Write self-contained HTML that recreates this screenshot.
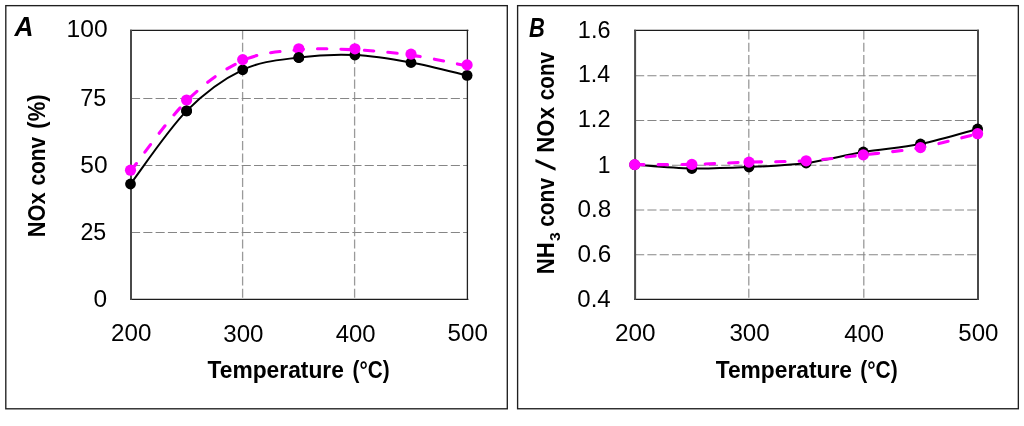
<!DOCTYPE html><html><head><meta charset="utf-8"><style>html,body{margin:0;padding:0;background:#fff;}svg{display:block;}text{font-family:"Liberation Sans",sans-serif;fill:#000;}</style></head><body>
<svg width="1024" height="426" viewBox="0 0 1024 426">
<rect x="0" y="0" width="1024" height="426" fill="#fff"/>
<rect x="5.8" y="5.65" width="501.50" height="403.15" fill="none" stroke="#1f1f1f" stroke-width="1.35"/>
<rect x="517.6" y="5.65" width="500.75" height="403.10" fill="none" stroke="#1f1f1f" stroke-width="1.35"/>
<line x1="242.60" y1="30.40" x2="242.60" y2="299.45" stroke="#9a9a9a" stroke-width="1.3" stroke-dasharray="9.1 3.2"/>
<line x1="354.60" y1="30.40" x2="354.60" y2="299.45" stroke="#9a9a9a" stroke-width="1.3" stroke-dasharray="9.1 3.2"/>
<line x1="131.00" y1="232.50" x2="467.40" y2="232.50" stroke="#868686" stroke-width="1.0" stroke-dasharray="9.1 3.2"/>
<line x1="131.00" y1="165.50" x2="467.40" y2="165.50" stroke="#868686" stroke-width="1.0" stroke-dasharray="9.1 3.2"/>
<line x1="131.00" y1="98.50" x2="467.40" y2="98.50" stroke="#868686" stroke-width="1.0" stroke-dasharray="9.1 3.2"/>
<line x1="130.00" y1="30.40" x2="468.40" y2="30.40" stroke="#1c1c1c" stroke-width="1.3"/>
<line x1="130.00" y1="299.45" x2="468.40" y2="299.45" stroke="#1c1c1c" stroke-width="1.3"/>
<line x1="131.00" y1="29.75" x2="131.00" y2="300.10" stroke="#4a4a4a" stroke-width="2.0"/>
<line x1="467.40" y1="29.75" x2="467.40" y2="300.10" stroke="#222" stroke-width="1.3"/>
<line x1="748.80" y1="30.35" x2="748.80" y2="299.40" stroke="#9a9a9a" stroke-width="1.3" stroke-dasharray="9.1 3.2"/>
<line x1="863.80" y1="30.35" x2="863.80" y2="299.40" stroke="#9a9a9a" stroke-width="1.3" stroke-dasharray="9.1 3.2"/>
<line x1="635.10" y1="254.75" x2="978.00" y2="254.75" stroke="#868686" stroke-width="1.0" stroke-dasharray="9.1 3.2"/>
<line x1="635.10" y1="210.00" x2="978.00" y2="210.00" stroke="#868686" stroke-width="1.0" stroke-dasharray="9.1 3.2"/>
<line x1="635.10" y1="165.25" x2="978.00" y2="165.25" stroke="#868686" stroke-width="1.0" stroke-dasharray="9.1 3.2"/>
<line x1="635.10" y1="120.50" x2="978.00" y2="120.50" stroke="#868686" stroke-width="1.0" stroke-dasharray="9.1 3.2"/>
<line x1="635.10" y1="75.75" x2="978.00" y2="75.75" stroke="#868686" stroke-width="1.0" stroke-dasharray="9.1 3.2"/>
<line x1="634.10" y1="30.35" x2="979.00" y2="30.35" stroke="#1c1c1c" stroke-width="1.3"/>
<line x1="634.10" y1="299.40" x2="979.00" y2="299.40" stroke="#1c1c1c" stroke-width="1.3"/>
<line x1="635.10" y1="29.70" x2="635.10" y2="300.05" stroke="#4a4a4a" stroke-width="2.0"/>
<line x1="978.00" y1="29.70" x2="978.00" y2="300.05" stroke="#4a4a4a" stroke-width="2.0"/>
<path d="M130.50,184.00 C139.85,171.82 167.90,129.93 186.60,110.90 C205.30,91.87 224.00,78.70 242.70,69.80 C261.40,60.90 280.10,59.97 298.80,57.50 C317.50,55.03 336.20,54.17 354.90,55.00 C373.60,55.83 392.30,59.10 411.00,62.50 C429.70,65.90 457.75,73.25 467.10,75.40" fill="none" stroke="#000" stroke-width="2.0"/>
<path d="M130.50,171.20 C139.85,159.50 167.90,119.43 186.60,101.00 C205.30,82.57 224.00,69.13 242.70,60.60 C261.40,52.07 280.10,51.60 298.80,49.80 C317.50,48.00 336.20,48.92 354.90,49.80 C373.60,50.68 392.30,52.42 411.00,55.10 C429.70,57.78 457.75,64.10 467.10,65.90" fill="none" stroke="#ff00ff" stroke-width="3.1" stroke-dasharray="9.4 14.1" stroke-dashoffset="-0.5" stroke-linecap="round"/>
<circle cx="130.50" cy="184.00" r="5.4" fill="#000"/>
<circle cx="186.60" cy="110.90" r="5.4" fill="#000"/>
<circle cx="242.70" cy="69.80" r="5.4" fill="#000"/>
<circle cx="298.80" cy="57.50" r="5.4" fill="#000"/>
<circle cx="354.90" cy="55.00" r="5.4" fill="#000"/>
<circle cx="411.00" cy="62.50" r="5.4" fill="#000"/>
<circle cx="467.10" cy="75.40" r="5.4" fill="#000"/>
<circle cx="130.50" cy="170.20" r="5.6" fill="#ff00ff"/>
<circle cx="186.60" cy="100.00" r="5.6" fill="#ff00ff"/>
<circle cx="242.70" cy="59.60" r="5.6" fill="#ff00ff"/>
<circle cx="298.80" cy="48.80" r="5.6" fill="#ff00ff"/>
<circle cx="354.90" cy="48.80" r="5.6" fill="#ff00ff"/>
<circle cx="411.00" cy="54.10" r="5.6" fill="#ff00ff"/>
<circle cx="467.10" cy="64.90" r="5.6" fill="#ff00ff"/>
<circle cx="186.60" cy="110.90" r="5.4" fill="#000"/>
<circle cx="298.80" cy="57.50" r="5.4" fill="#000"/>
<path d="M634.70,164.70 C644.23,165.33 672.80,168.12 691.85,168.50 C710.90,168.88 729.95,167.92 749.00,167.00 C768.05,166.08 787.10,165.50 806.15,163.00 C825.20,160.50 844.25,155.17 863.30,152.00 C882.35,148.83 901.40,147.83 920.45,144.00 C939.50,140.17 968.08,131.50 977.60,129.00" fill="none" stroke="#000" stroke-width="2.0"/>
<path d="M634.70,164.60 C644.23,164.57 672.80,164.82 691.85,164.40 C710.90,163.98 729.95,162.70 749.00,162.10 C768.05,161.50 787.10,162.00 806.15,160.80 C825.20,159.60 844.25,157.10 863.30,154.90 C882.35,152.70 901.40,151.13 920.45,147.60 C939.50,144.07 968.08,136.02 977.60,133.70" fill="none" stroke="#ff00ff" stroke-width="3.1" stroke-dasharray="9.4 14.1" stroke-dashoffset="0" stroke-linecap="round"/>
<circle cx="634.70" cy="164.70" r="5.4" fill="#000"/>
<circle cx="691.85" cy="168.50" r="5.4" fill="#000"/>
<circle cx="749.00" cy="167.00" r="5.4" fill="#000"/>
<circle cx="806.15" cy="163.00" r="5.4" fill="#000"/>
<circle cx="863.30" cy="152.00" r="5.4" fill="#000"/>
<circle cx="920.45" cy="144.00" r="5.4" fill="#000"/>
<circle cx="977.60" cy="129.00" r="5.4" fill="#000"/>
<circle cx="634.70" cy="164.60" r="5.6" fill="#ff00ff"/>
<circle cx="691.85" cy="164.40" r="5.6" fill="#ff00ff"/>
<circle cx="749.00" cy="162.10" r="5.6" fill="#ff00ff"/>
<circle cx="806.15" cy="160.80" r="5.6" fill="#ff00ff"/>
<circle cx="863.30" cy="154.90" r="5.6" fill="#ff00ff"/>
<circle cx="920.45" cy="147.60" r="5.6" fill="#ff00ff"/>
<circle cx="977.60" cy="133.70" r="5.6" fill="#ff00ff"/>
<text x="66.56" y="37.30" font-size="23" textLength="41.06" lengthAdjust="spacingAndGlyphs">100</text>
<text x="80.28" y="105.60" font-size="23" textLength="26.02" lengthAdjust="spacingAndGlyphs">75</text>
<text x="80.25" y="172.83" font-size="23" textLength="27.29" lengthAdjust="spacingAndGlyphs">50</text>
<text x="80.46" y="239.50" font-size="23" textLength="25.83" lengthAdjust="spacingAndGlyphs">25</text>
<text x="93.45" y="307.13" font-size="23" textLength="13.61" lengthAdjust="spacingAndGlyphs">0</text>
<text x="577.31" y="306.50" font-size="23" textLength="33.37" lengthAdjust="spacingAndGlyphs">0.4</text>
<text x="577.46" y="262.05" font-size="23" textLength="33.76" lengthAdjust="spacingAndGlyphs">0.6</text>
<text x="577.47" y="216.74" font-size="23" textLength="33.74" lengthAdjust="spacingAndGlyphs">0.8</text>
<text x="597.79" y="172.61" font-size="23" textLength="12.74" lengthAdjust="spacingAndGlyphs">1</text>
<text x="577.73" y="126.98" font-size="23" textLength="32.86" lengthAdjust="spacingAndGlyphs">1.2</text>
<text x="577.90" y="82.35" font-size="23" textLength="32.14" lengthAdjust="spacingAndGlyphs">1.4</text>
<text x="577.85" y="37.72" font-size="23" textLength="32.62" lengthAdjust="spacingAndGlyphs">1.6</text>
<text x="111.12" y="340.93" font-size="23" textLength="40.28" lengthAdjust="spacingAndGlyphs">200</text>
<text x="615.03" y="340.88" font-size="23" textLength="40.58" lengthAdjust="spacingAndGlyphs">200</text>
<text x="223.28" y="341.51" font-size="23" textLength="40.25" lengthAdjust="spacingAndGlyphs">300</text>
<text x="729.43" y="341.45" font-size="23" textLength="40.35" lengthAdjust="spacingAndGlyphs">300</text>
<text x="335.82" y="341.50" font-size="23" textLength="39.79" lengthAdjust="spacingAndGlyphs">400</text>
<text x="844.28" y="341.50" font-size="23" textLength="39.89" lengthAdjust="spacingAndGlyphs">400</text>
<text x="447.51" y="341.25" font-size="23" textLength="40.32" lengthAdjust="spacingAndGlyphs">500</text>
<text x="958.25" y="341.11" font-size="23" textLength="40.17" lengthAdjust="spacingAndGlyphs">500</text>
<text x="14.61" y="36.30" font-size="27" font-weight="bold" font-style="italic" textLength="18.97" lengthAdjust="spacingAndGlyphs">A</text>
<text x="528.94" y="36.60" font-size="27" font-weight="bold" font-style="italic" textLength="15.80" lengthAdjust="spacingAndGlyphs">B</text>
<text x="207.60" y="378.00" font-size="23" font-weight="bold" textLength="136.23" lengthAdjust="spacingAndGlyphs">Temperature</text>
<text x="352.54" y="377.60" font-size="23" font-weight="bold" textLength="37.01" lengthAdjust="spacingAndGlyphs">(°C)</text>
<text x="715.69" y="378.00" font-size="23" font-weight="bold" textLength="136.29" lengthAdjust="spacingAndGlyphs">Temperature</text>
<text x="860.28" y="377.60" font-size="23" font-weight="bold" textLength="37.40" lengthAdjust="spacingAndGlyphs">(°C)</text>
<text transform="translate(44.80,237.24) rotate(-90)" font-size="23" font-weight="bold" textLength="45.00" lengthAdjust="spacingAndGlyphs">NOx</text>
<text transform="translate(44.80,185.48) rotate(-90)" font-size="23" font-weight="bold" textLength="48.53" lengthAdjust="spacingAndGlyphs">conv</text>
<text transform="translate(44.80,128.68) rotate(-90)" font-size="23" font-weight="bold" textLength="34.24" lengthAdjust="spacingAndGlyphs">(%)</text>
<text transform="translate(553.75,274.24) rotate(-90)" font-size="23" font-weight="bold" textLength="32.02" lengthAdjust="spacingAndGlyphs">NH</text>
<text transform="translate(559.52,241.04) rotate(-90)" font-size="15" font-weight="bold" textLength="8.72" lengthAdjust="spacingAndGlyphs">3</text>
<text transform="translate(553.75,226.86) rotate(-90)" font-size="23" font-weight="bold" textLength="48.90" lengthAdjust="spacingAndGlyphs">conv</text>
<text transform="translate(555.25,171.05) rotate(-90) skewX(-14)" font-size="27" font-weight="bold">/</text>
<text transform="translate(553.75,152.70) rotate(-90)" font-size="23" font-weight="bold" textLength="45.71" lengthAdjust="spacingAndGlyphs">NOx</text>
<text transform="translate(553.75,100.16) rotate(-90)" font-size="23" font-weight="bold" textLength="48.26" lengthAdjust="spacingAndGlyphs">conv</text>
</svg></body></html>
